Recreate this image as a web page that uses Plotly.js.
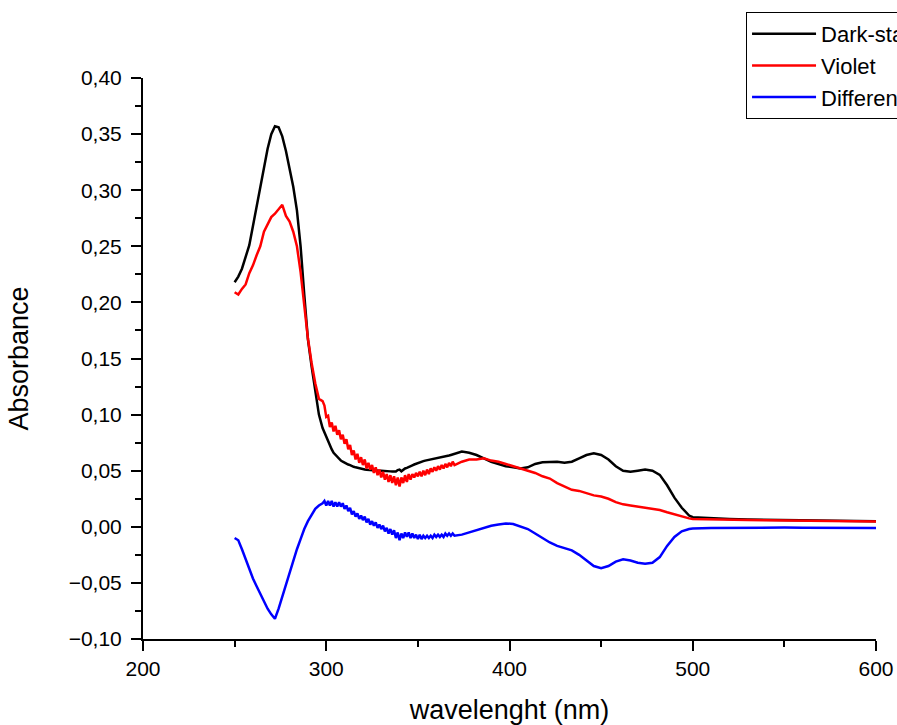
<!DOCTYPE html>
<html>
<head>
<meta charset="utf-8">
<script src="https://cdn.plot.ly/plotly-3.0.1.min.js"></script>
<style>html,body{margin:0;padding:0;background:#fff;overflow:hidden;}#chart{width:897px;height:725px;overflow:hidden;}</style>
</head>
<body>
<div id="chart"></div>
<script>
// ---- data ----
var seriesNames = ["Dark-state", "Violet", "Difference"];

// wavelength (nm), segment A: 250-298 step 2
var wlA = [250,252,254,256,258,260,262,264,266,268,270,272,274,276,278,280,282,284,286,288,290,292,294,296,298];
var darkA = [0.218,0.223,0.230,0.240,0.251,0.268,0.285,0.302,0.320,0.337,0.350,0.357,0.356,0.348,0.335,0.320,0.303,0.282,0.250,0.207,0.167,0.143,0.119,0.100,0.088];
var violetA = [0.209,0.207,0.212,0.216,0.226,0.233,0.242,0.250,0.263,0.270,0.276,0.279,0.283,0.287,0.277,0.272,0.263,0.250,0.227,0.199,0.168,0.146,0.128,0.114,0.112];
var diffA = [-0.010,-0.012,-0.020,-0.029,-0.037,-0.046,-0.053,-0.060,-0.066,-0.073,-0.078,-0.082,-0.073,-0.062,-0.053,-0.042,-0.030,-0.020,-0.011,-0.002,0.005,0.011,0.016,0.019,0.021];

// segment B: 299-370 step 1 (noisy region)
var wlB = [299,300,301,302,303,304,305,306,307,308,309,310,311,312,313,314,315,316,317,318,319,320,321,322,323,324,325,326,327,328,329,330,331,332,333,334,335,336,337,338,339,340,341,342,343,344,345,346,347,348,349,350,351,352,353,354,355,356,357,358,359,360,361,362,363,364,365,366,367,368,369,370];
var darkB = [0.084,0.080,0.076,0.072,0.069,0.066,0.064,0.062,0.060,0.059,0.058,0.057,0.056,0.0555,0.055,0.054,0.0535,0.053,0.0525,0.052,0.0517,0.0513,0.051,0.0508,0.0506,0.0505,0.0505,0.0503,0.0502,0.0502,0.050,0.050,0.050,0.0498,0.0496,0.0495,0.0494,0.0492,0.049,0.0492,0.0505,0.051,0.0495,0.0512,0.052,0.0525,0.0535,0.054,0.0548,0.0555,0.0562,0.057,0.0575,0.058,0.0585,0.059,0.0593,0.0597,0.060,0.0604,0.0607,0.061,0.0613,0.0616,0.0619,0.0622,0.0626,0.063,0.0635,0.064,0.0645,0.065];
var violetB = [0.108,0.098,0.099,0.089,0.093,0.085,0.090,0.082,0.086,0.078,0.082,0.074,0.078,0.069,0.073,0.064,0.068,0.060,0.065,0.057,0.062,0.055,0.060,0.052,0.057,0.051,0.055,0.048,0.053,0.046,0.051,0.044,0.049,0.042,0.047,0.040,0.046,0.039,0.045,0.037,0.044,0.036,0.044,0.039,0.046,0.040,0.047,0.042,0.047,0.044,0.048,0.045,0.049,0.045,0.050,0.046,0.051,0.047,0.052,0.049,0.053,0.050,0.054,0.051,0.055,0.052,0.056,0.053,0.057,0.054,0.058,0.055];
var diffB = [0.023,0.019,0.023,0.019,0.023,0.018,0.022,0.018,0.022,0.018,0.021,0.016,0.019,0.014,0.017,0.011,0.014,0.009,0.012,0.007,0.010,0.006,0.009,0.004,0.007,0.002,0.005,0.001,0.004,-0.001,0.002,-0.002,0.001,-0.004,-0.001,-0.006,-0.002,-0.007,-0.003,-0.010,-0.005,-0.012,-0.006,-0.010,-0.005,-0.009,-0.005,-0.010,-0.006,-0.010,-0.007,-0.011,-0.007,-0.011,-0.008,-0.010,-0.008,-0.010,-0.008,-0.010,-0.007,-0.009,-0.007,-0.009,-0.007,-0.009,-0.006,-0.008,-0.006,-0.008,-0.006,-0.008];

// segment C: 374-498 step 4
var wlC = [374,378,382,386,390,394,398,402,406,410,414,418,422,426,430,434,438,442,446,450,454,458,462,466,470,474,478,482,486,490,494,498];
var darkC = [0.067,0.066,0.064,0.061,0.058,0.056,0.054,0.053,0.052,0.053,0.056,0.0575,0.058,0.058,0.057,0.058,0.061,0.064,0.0655,0.064,0.060,0.054,0.050,0.049,0.050,0.051,0.050,0.0463,0.037,0.026,0.017,0.010];
var violetC = [0.058,0.060,0.060,0.061,0.059,0.058,0.056,0.054,0.052,0.050,0.048,0.045,0.043,0.039,0.036,0.033,0.032,0.030,0.028,0.027,0.025,0.022,0.020,0.019,0.018,0.0175,0.016,0.015,0.013,0.011,0.009,0.0075];
var diffC = [-0.007,-0.005,-0.003,-0.001,0.001,0.002,0.003,0.0025,0.000,-0.002,-0.006,-0.010,-0.014,-0.017,-0.019,-0.021,-0.025,-0.030,-0.035,-0.037,-0.035,-0.031,-0.029,-0.030,-0.032,-0.033,-0.032,-0.027,-0.017,-0.009,-0.004,-0.002];

// segment D: 500-600 step 10
var wlD = [500,510,520,530,540,550,560,570,580,590,600];
var darkD = [0.0085,0.0075,0.007,0.0065,0.0062,0.006,0.006,0.0058,0.0055,0.0053,0.005];
var violetD = [0.007,0.0065,0.006,0.006,0.0058,0.0056,0.0055,0.0053,0.005,0.0048,0.0047];
var diffD = [-0.0015,-0.001,-0.0008,-0.0008,-0.0007,-0.0007,-0.0008,-0.0008,-0.0009,-0.001,-0.001];

var xTickVals = [200,300,400,500,600];
var yTickVals = [-0.10,-0.05,0.00,0.05,0.10,0.15,0.20,0.25,0.30,0.35,0.40];

// ---- build traces ----
var wl = wlA.concat(wlB, wlC, wlD);
var dark = darkA.concat(darkB, darkC, darkD);
var violet = violetA.concat(violetB, violetC, violetD);
var diff = diffA.concat(diffB, diffC, diffD);

var FONT = "Liberation Sans, Arial, sans-serif";
var traces = [
  {x: wl, y: dark, name: seriesNames[0], mode: "lines", line: {color: "#000000", width: 2.5}},
  {x: wl, y: violet, name: seriesNames[1], mode: "lines", line: {color: "#ff0000", width: 2.5}},
  {x: wl, y: diff, name: seriesNames[2], mode: "lines", line: {color: "#0000ff", width: 2.5}}
];

var layout = {
  width: 897, height: 725,
  margin: {l: 143, r: 21, t: 78, b: 86, pad: 0, autoexpand: false},
  paper_bgcolor: "#ffffff", plot_bgcolor: "#ffffff",
  separators: ", ",
  font: {family: FONT, size: 21, color: "#000000"},
  showlegend: true,
  legend: {
    x: 0.8227, y: 1.1176, xanchor: "left", yanchor: "top",
    bgcolor: "#ffffff", bordercolor: "#000000", borderwidth: 1,
    font: {family: FONT, size: 22, color: "#000000"},
    itemwidth: 64, tracegroupgap: 0
  },
  xaxis: {
    range: [200, 600], tickvals: xTickVals, tickmode: "array",
    showgrid: false, zeroline: false,
    showline: true, linecolor: "#000000", linewidth: 2,
    ticks: "outside", ticklen: 10, tickwidth: 2, tickcolor: "#000000",
    minor: {tickvals: [250,350,450,550], ticks: "outside", ticklen: 6, tickwidth: 2, tickcolor: "#000000", showgrid: false},
    tickfont: {family: FONT, size: 21},
    title: {text: "wavelenght (nm)", font: {family: FONT, size: 27}, standoff: 21}
  },
  yaxis: {
    range: [-0.10, 0.40], tickvals: yTickVals, tickmode: "array", tickformat: ".2f",
    showgrid: false, zeroline: false,
    showline: true, linecolor: "#000000", linewidth: 2,
    ticks: "outside", ticklen: 10, tickwidth: 2, tickcolor: "#000000",
    ticklabelstandoff: 5,
    minor: {tickvals: [-0.075,-0.025,0.025,0.075,0.125,0.175,0.225,0.275,0.325,0.375], ticks: "outside", ticklen: 6, tickwidth: 2, tickcolor: "#000000", showgrid: false},
    tickfont: {family: FONT, size: 21},
    title: {text: "Absorbance", font: {family: FONT, size: 27}, standoff: 32}
  }
};

Plotly.newPlot("chart", traces, layout, {staticPlot: true, displayModeBar: false});
</script>
</body>
</html>
